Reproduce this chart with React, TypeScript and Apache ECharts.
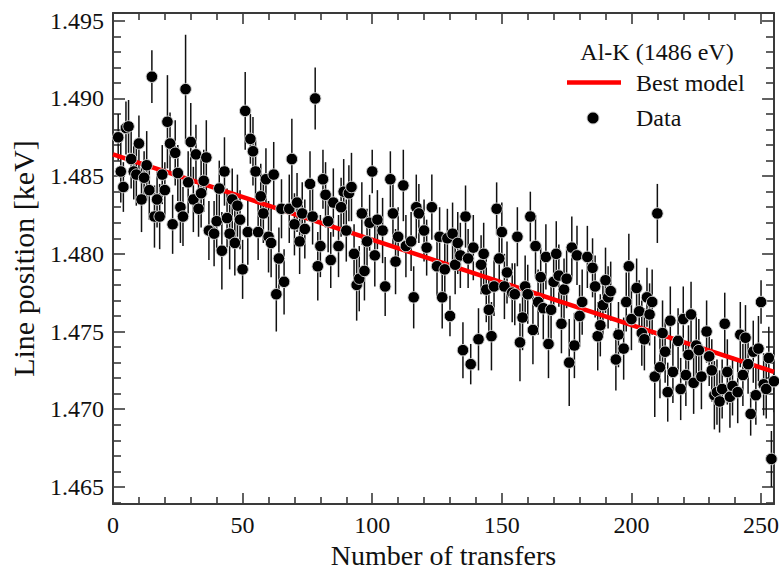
import React, { useEffect, useRef } from "react";
import * as echarts from "echarts";

// Number of transfers (x) for each measured point
const transfers = [
  2, 3, 4, 5, 6, 7, 8, 9, 10, 11,
  12, 13, 14, 15, 16, 17, 18, 19, 20, 21,
  22, 23, 24, 25, 26, 27, 28, 29, 30, 31,
  32, 33, 34, 35, 36, 37, 39, 40, 41, 42,
  43, 44, 45, 46, 47, 48, 49, 50, 51, 52,
  53, 54, 55, 56, 57, 58, 59, 60, 61, 62,
  63, 64, 65, 66, 68, 69, 70, 71, 72, 73,
  74, 76, 77, 78, 79, 80, 81, 82, 83, 84,
  85, 87, 88, 89, 90, 91, 92, 93, 94, 95,
  96, 97, 98, 99, 100, 101, 102, 104, 105, 107,
  108, 109, 110, 112, 113, 115, 116, 117, 118, 120,
  121, 123, 125, 126, 127, 128, 129, 130, 131, 132,
  133, 134, 135, 136, 137, 138, 139, 141, 142, 143,
  144, 145, 146, 147, 148, 149, 150, 151, 152, 154,
  155, 156, 157, 158, 159, 160, 161, 162, 163, 164,
  165, 166, 167, 168, 169, 170, 171, 172, 173, 174,
  175, 176, 177, 178, 179, 180, 181, 183, 185, 186,
  187, 188, 189, 190, 191, 192, 194, 195, 197, 198,
  199, 200, 202, 203, 204, 205, 206, 207, 208, 209,
  210, 211, 212, 213, 214, 215, 216, 218, 219, 220,
  221, 222, 223, 224, 225, 226, 227, 229, 230, 231,
  232, 233, 234, 235, 236, 237, 238, 239, 241, 242,
  243, 244, 245, 246, 247, 248, 249, 250, 251, 252,
  253, 254, 255,
];

// Line position [keV]
const positions = [
  1.4875, 1.4853, 1.4843, 1.4881, 1.4882, 1.4861, 1.4853, 1.4851, 1.4871, 1.4835,
  1.4849, 1.4857, 1.4841, 1.4914, 1.4824, 1.4835, 1.4824, 1.4851, 1.4841, 1.4885,
  1.4871, 1.4819, 1.4865, 1.4852, 1.4830, 1.4824, 1.4906, 1.4846, 1.4872, 1.4835,
  1.4864, 1.4829, 1.4839, 1.4847, 1.4862, 1.4815, 1.4813, 1.4821, 1.4842, 1.4802,
  1.4853, 1.4823, 1.4813, 1.4835, 1.4807, 1.4831, 1.4822, 1.4790, 1.4892, 1.4814,
  1.4874, 1.4866, 1.4853, 1.4814, 1.4837, 1.4826, 1.4848, 1.4811, 1.4807, 1.4851,
  1.4774, 1.4797, 1.4829, 1.4782, 1.4829, 1.4861, 1.4819, 1.4833, 1.4808, 1.4826,
  1.4816, 1.4845, 1.4824, 1.4900, 1.4792, 1.4805, 1.4848, 1.4838, 1.4821, 1.4796,
  1.4833, 1.4805, 1.4830, 1.4840, 1.4815, 1.4839, 1.4843, 1.4800, 1.4780, 1.4784,
  1.4826, 1.4789, 1.4808, 1.4820, 1.4853, 1.4799, 1.4822, 1.4815, 1.4779, 1.4848,
  1.4826, 1.4795, 1.4811, 1.4844, 1.4805, 1.4808, 1.4772, 1.4830, 1.4826, 1.4815,
  1.4804, 1.4830, 1.4792, 1.4811, 1.4772, 1.4790, 1.4810, 1.4760, 1.4813, 1.4793,
  1.4807, 1.4799, 1.4738, 1.4824, 1.4797, 1.4729, 1.4804, 1.4745, 1.4793, 1.4800,
  1.4777, 1.4764, 1.4747, 1.4779, 1.4829, 1.4797, 1.4814, 1.4779, 1.4788, 1.4775,
  1.4774, 1.4811, 1.4743, 1.4759, 1.4779, 1.4774, 1.4824, 1.4751, 1.4805, 1.4769,
  1.4785, 1.4765, 1.4798, 1.4742, 1.4764, 1.4782, 1.4800, 1.4786, 1.4755, 1.4777,
  1.4784, 1.4730, 1.4804, 1.4741, 1.4799, 1.4760, 1.4769, 1.4798, 1.4791, 1.4779,
  1.4747, 1.4754, 1.4767, 1.4783, 1.4772, 1.4776, 1.4732, 1.4748, 1.4739, 1.4769,
  1.4792, 1.4758, 1.4778, 1.4763, 1.4749, 1.4745, 1.4772, 1.4761, 1.4769, 1.4721,
  1.4826, 1.4727, 1.4749, 1.4737, 1.4711, 1.4757, 1.4724, 1.4744, 1.4713, 1.4758,
  1.4722, 1.4735, 1.4761, 1.4717, 1.4741, 1.4738, 1.4721, 1.4750, 1.4734, 1.4725,
  1.4709, 1.4711, 1.4705, 1.4713, 1.4755, 1.4724, 1.4708, 1.4715, 1.4711, 1.4748,
  1.4722, 1.4746, 1.4729, 1.4697, 1.4737, 1.4709, 1.4739, 1.4769, 1.4716, 1.4713,
  1.4733, 1.4668, 1.4718,
];

// Half-length of each error bar [keV]
const errors = [
  0.0015, 0.0020, 0.0016, 0.0017, 0.0017, 0.0019, 0.0018, 0.0020, 0.0018, 0.0021,
  0.0017, 0.0022, 0.0019, 0.0017, 0.0020, 0.0018, 0.0021, 0.0019, 0.0018, 0.0030,
  0.0020, 0.0019, 0.0021, 0.0018, 0.0023, 0.0019, 0.0035, 0.0020, 0.0025, 0.0021,
  0.0019, 0.0018, 0.0022, 0.0020, 0.0024, 0.0019, 0.0021, 0.0020, 0.0018, 0.0025,
  0.0022, 0.0019, 0.0023, 0.0020, 0.0021, 0.0020, 0.0019, 0.0019, 0.0025, 0.0021,
  0.0016, 0.0022, 0.0020, 0.0018, 0.0021, 0.0019, 0.0020, 0.0023, 0.0022, 0.0021,
  0.0024, 0.0020, 0.0019, 0.0021, 0.0022, 0.0026, 0.0020, 0.0019, 0.0021, 0.0020,
  0.0019, 0.0021, 0.0018, 0.0020, 0.0022, 0.0020, 0.0019, 0.0021, 0.0020, 0.0018,
  0.0022, 0.0020, 0.0019, 0.0021, 0.0020, 0.0018, 0.0022, 0.0019, 0.0023, 0.0021,
  0.0020, 0.0019, 0.0021, 0.0018, 0.0014, 0.0020, 0.0019, 0.0021, 0.0019, 0.0018,
  0.0020, 0.0021, 0.0019, 0.0023, 0.0020, 0.0019, 0.0020, 0.0021, 0.0019, 0.0020,
  0.0018, 0.0021, 0.0020, 0.0019, 0.0020, 0.0021, 0.0019, 0.0013, 0.0020, 0.0019,
  0.0020, 0.0021, 0.0018, 0.0020, 0.0019, 0.0013, 0.0021, 0.0020, 0.0019, 0.0020,
  0.0021, 0.0020, 0.0022, 0.0019, 0.0017, 0.0020, 0.0019, 0.0021, 0.0020, 0.0019,
  0.0020, 0.0019, 0.0025, 0.0021, 0.0020, 0.0019, 0.0016, 0.0022, 0.0020, 0.0021,
  0.0019, 0.0020, 0.0021, 0.0022, 0.0020, 0.0019, 0.0021, 0.0020, 0.0019, 0.0020,
  0.0019, 0.0028, 0.0020, 0.0021, 0.0019, 0.0020, 0.0021, 0.0020, 0.0019, 0.0020,
  0.0022, 0.0020, 0.0019, 0.0021, 0.0020, 0.0019, 0.0020, 0.0021, 0.0020, 0.0019,
  0.0021, 0.0020, 0.0019, 0.0020, 0.0021, 0.0020, 0.0019, 0.0020, 0.0021, 0.0026,
  0.0019, 0.0020, 0.0021, 0.0020, 0.0019, 0.0022, 0.0020, 0.0021, 0.0020, 0.0021,
  0.0020, 0.0019, 0.0021, 0.0020, 0.0019, 0.0020, 0.0021, 0.0020, 0.0019, 0.0020,
  0.0022, 0.0021, 0.0020, 0.0019, 0.0020, 0.0021, 0.0020, 0.0019, 0.0020, 0.0021,
  0.0020, 0.0021, 0.0019, 0.0014, 0.0020, 0.0019, 0.0021, 0.0014, 0.0020, 0.0019,
  0.0020, 0.0018, 0.0020,
];

// Best model (straight line) end points
const modelTransfers = [0, 255];
const modelPositions = [1.4864, 1.4724];

const legendTitle = "Al-K (1486 eV)";
const legendModel = "Best model";
const legendData = "Data";
const xTitle = "Number of transfers";
const yTitle = "Line position [keV]";

const FONT = "Liberation Serif";
const AXIS_COLOR = "#3a3a3a";

export default function App() {
  const ref = useRef<HTMLDivElement>(null);

  useEffect(() => {
    if (!ref.current) return;
    const chart = echarts.init(ref.current, null, { renderer: "svg" });

    const pts = transfers.map((x, i) => [x, positions[i], errors[i]]);
    const model = modelTransfers.map((x, i) => [x, modelPositions[i]]);

    const lineStyle = { color: AXIS_COLOR, width: 2 };
    const tickStyle = { color: AXIS_COLOR, width: 1.6 };

    const xBase: any = {
      type: "value",
      min: 0,
      max: 255,
      interval: 50,
      axisLine: { show: true, onZero: false, lineStyle },
      axisTick: { show: true, inside: true, length: 11, lineStyle: tickStyle },
      minorTick: { show: true, splitNumber: 5, length: 7, lineStyle: tickStyle },
      splitLine: { show: false },
      minorSplitLine: { show: false },
    };
    const yBase: any = {
      type: "value",
      min: 1.4639,
      max: 1.4955,
      splitNumber: 6,
      scale: true,
      axisLine: { show: true, onZero: false, lineStyle },
      axisTick: { show: true, inside: true, length: 12, lineStyle: tickStyle },
      minorTick: { show: true, splitNumber: 5, length: 8, lineStyle: tickStyle },
      splitLine: { show: false },
      minorSplitLine: { show: false },
    };

    chart.setOption({
      animation: false,
      backgroundColor: "#ffffff",
      grid: {
        left: 113,
        right: 5,
        top: 13,
        bottom: 65,
        containLabel: false,
        outerBoundsMode: "none",
      },
      xAxis: [
        {
          ...xBase,
          position: "bottom",
          name: xTitle,
          nameLocation: "middle",
          nameGap: 30,
          nameTextStyle: { fontFamily: FONT, fontSize: 28, color: "#111", lineHeight: 28 },
          axisLabel: {
            show: true,
            fontFamily: FONT,
            fontSize: 24,
            color: "#111",
            margin: 9,
            showMaxLabel: false,
          },
        },
        { ...xBase, position: "top", axisLabel: { show: false } },
      ],
      yAxis: [
        {
          ...yBase,
          position: "left",
          name: yTitle,
          nameLocation: "middle",
          nameGap: 75,
          nameTextStyle: { fontFamily: FONT, fontSize: 30, color: "#111" },
          axisLabel: {
            show: true,
            fontFamily: FONT,
            fontSize: 24,
            color: "#111",
            margin: 9,
            showMinLabel: false,
            showMaxLabel: false,
            formatter: (v: number) => v.toFixed(3),
          },
        },
        { ...yBase, position: "right", axisLabel: { show: false } },
      ],
      series: [
        {
          type: "custom",
          name: "errors",
          xAxisIndex: 0,
          yAxisIndex: 0,
          data: pts,
          encode: { x: 0, y: 1 },
          clip: true,
          silent: true,
          z: 1,
          renderItem: (_params: any, api: any) => {
            const x = api.value(0);
            const y = api.value(1);
            const e = api.value(2);
            const p1 = api.coord([x, y - e]);
            const p2 = api.coord([x, y + e]);
            return {
              type: "line",
              shape: { x1: p1[0], y1: p1[1], x2: p2[0], y2: p2[1] },
              style: { stroke: "#111", lineWidth: 1.5 },
            };
          },
        },
        {
          type: "line",
          name: legendModel,
          xAxisIndex: 0,
          yAxisIndex: 0,
          data: model,
          showSymbol: false,
          symbol: "none",
          lineStyle: { color: "#ff0000", width: 4.5 },
          z: 2,
          silent: true,
        },
        {
          type: "scatter",
          name: legendData,
          xAxisIndex: 0,
          yAxisIndex: 0,
          data: pts.map((p) => [p[0], p[1]]),
          symbol: "circle",
          symbolSize: 11.5,
          itemStyle: { color: "#000", borderColor: "#d0d0d0", borderWidth: 1, opacity: 1 },
          z: 3,
          silent: true,
        },
      ],
      graphic: [
        {
          type: "text",
          x: 657,
          y: 52,
          style: {
            text: legendTitle,
            fontFamily: FONT,
            fontSize: 24,
            fill: "#111",
            align: "center",
            verticalAlign: "middle",
          },
        },
        {
          type: "line",
          shape: { x1: 567, y1: 82.5, x2: 621, y2: 82.5 },
          style: { stroke: "#ff0000", lineWidth: 4.5 },
        },
        {
          type: "text",
          x: 636,
          y: 83,
          style: {
            text: legendModel,
            fontFamily: FONT,
            fontSize: 24,
            fill: "#111",
            align: "left",
            verticalAlign: "middle",
          },
        },
        {
          type: "circle",
          shape: { cx: 593, cy: 118, r: 6 },
          style: { fill: "#000", stroke: "#d0d0d0", lineWidth: 1 },
        },
        {
          type: "text",
          x: 636,
          y: 118,
          style: {
            text: legendData,
            fontFamily: FONT,
            fontSize: 24,
            fill: "#111",
            align: "left",
            verticalAlign: "middle",
          },
        },
      ],
    });

    return () => {
      chart.dispose();
    };
  }, []);

  return (
    <div
      ref={ref}
      style={{
        position: "fixed",
        left: 0,
        top: 0,
        width: 779,
        height: 569,
        background: "#fff",
      }}
    />
  );
}
